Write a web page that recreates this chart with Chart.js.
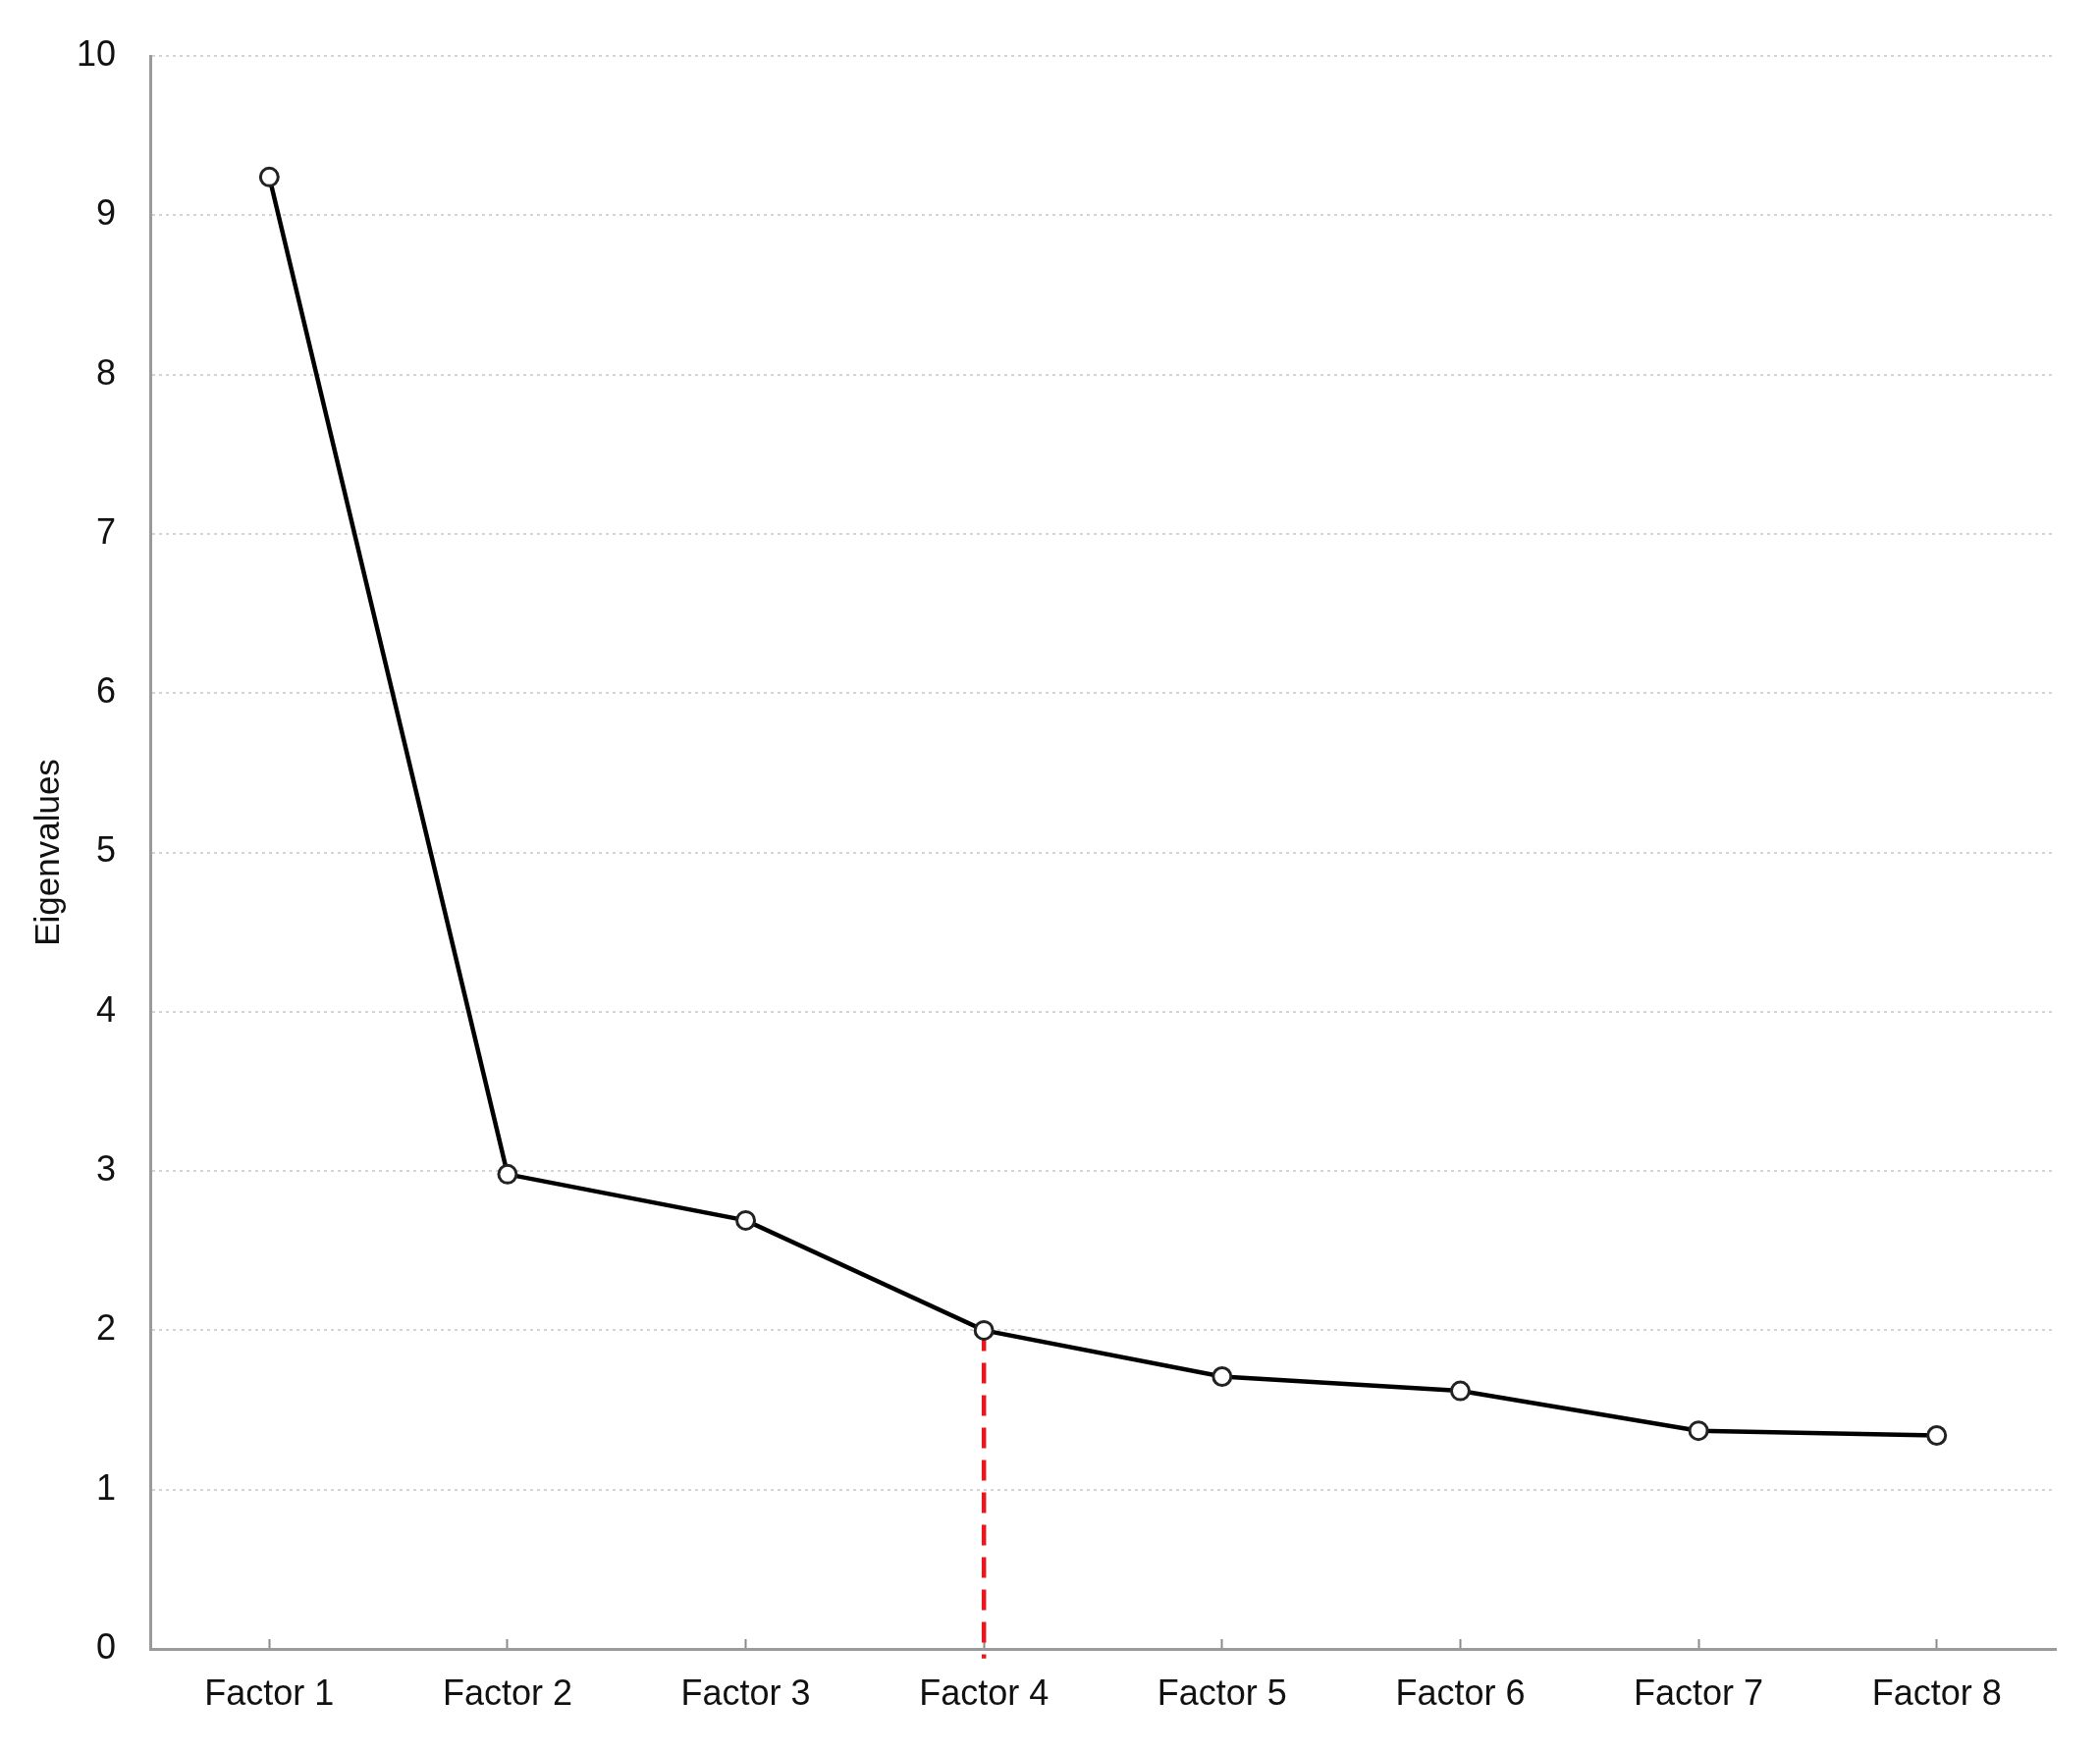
<!DOCTYPE html>
<html>
<head>
<meta charset="utf-8">
<script src="https://cdn.jsdelivr.net/npm/chart.js@4.4.0/dist/chart.umd.min.js"></script>
<style>
  html, body { margin: 0; padding: 0; background: #ffffff; }
  #wrap { width: 2139px; height: 1785px; }
</style>
</head>
<body>
<div id="wrap"><canvas id="c" width="2139" height="1785"></canvas></div>
<script>
const categories = ['Factor 1', 'Factor 2', 'Factor 3', 'Factor 4', 'Factor 5', 'Factor 6', 'Factor 7', 'Factor 8'];
const eigenvalues = [9.24, 2.98, 2.69, 2.00, 1.71, 1.62, 1.37, 1.34];
const yTicks = [0, 1, 2, 3, 4, 5, 6, 7, 8, 9, 10];
const cutoffCategory = 'Factor 4';
const cutoffLineBottom = -0.06;

const FONT = "'Liberation Sans', Arial, Helvetica, sans-serif";
const cutoffValue = eigenvalues[categories.indexOf(cutoffCategory)];

new Chart(document.getElementById('c'), {
  type: 'line',
  data: {
    labels: categories,
    datasets: [
      {
        label: 'Eigenvalues',
        data: eigenvalues,
        borderColor: '#000000',
        borderWidth: 4.5,
        pointRadius: 9,
        pointBorderWidth: 3,
        pointBorderColor: '#222222',
        pointBackgroundColor: '#ffffff',
        tension: 0,
        order: 0
      },
      {
        label: 'Cutoff',
        data: [{x: cutoffCategory, y: cutoffValue}, {x: cutoffCategory, y: cutoffLineBottom}],
        borderColor: '#e8161d',
        borderWidth: 4.5,
        borderDash: [21, 12],
        pointRadius: 0,
        clip: false,
        order: 1
      }
    ]
  },
  options: {
    responsive: false,
    animation: false,
    events: [],
    layout: { padding: { top: 57, right: 45, bottom: 0, left: 0 } },
    plugins: { legend: { display: false }, tooltip: { enabled: false }, title: { display: false } },
    scales: {
      x: {
        type: 'category',
        offset: true,
        grid: {
          offset: false,
          drawOnChartArea: false,
          drawTicks: true,
          tickLength: -10,
          tickWidth: 2,
          tickColor: '#8a8a8a'
        },
        border: { display: true, color: '#9a9a9a', width: 3 },
        ticks: {
          color: '#111111',
          padding: 35,
          maxRotation: 0,
          autoSkip: false,
          font: { family: FONT, size: 36 }
        },
        afterFit: (s) => { s.height = 105; }
      },
      y: {
        min: 0,
        max: 10,
        afterBuildTicks: (s) => { s.ticks = yTicks.map(v => ({ value: v })); },
        grid: {
          color: '#d4d4d4',
          lineWidth: 2,
          drawTicks: false
        },
        border: { display: true, color: '#9a9a9a', width: 3, dash: [3, 4] },
        ticks: {
          color: '#111111',
          padding: 35,
          font: { family: FONT, size: 36 }
        },
        title: {
          display: true,
          text: 'Eigenvalues',
          color: '#111111',
          font: { family: FONT, size: 35 },
          padding: { top: 29, bottom: 0 }
        },
        afterFit: (s) => { s.width = 153; }
      }
    }
  }
});
</script>
</body>
</html>
